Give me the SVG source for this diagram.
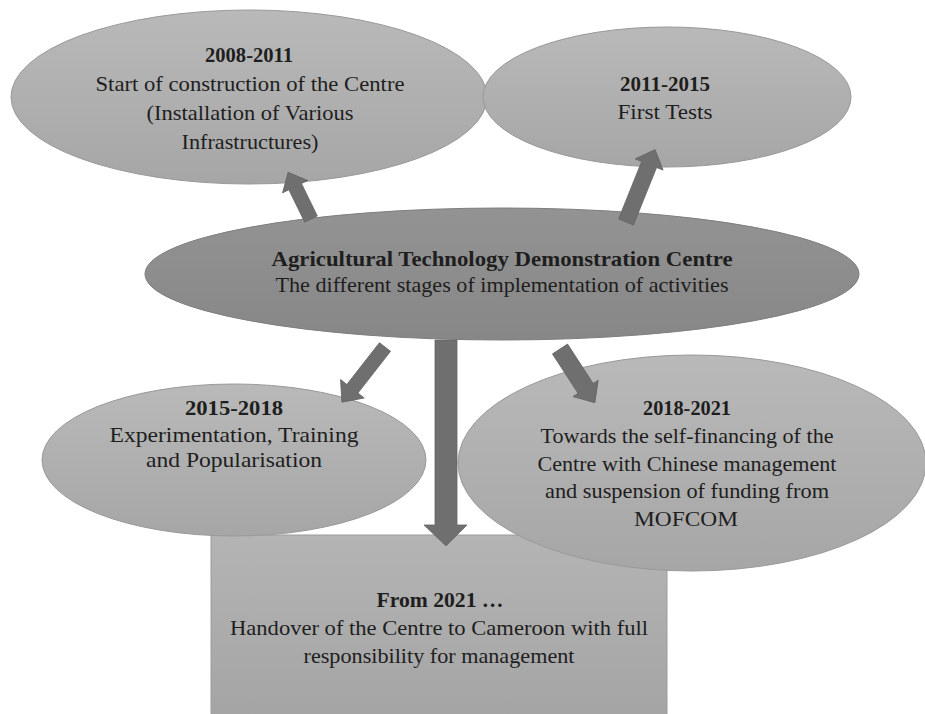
<svg xmlns="http://www.w3.org/2000/svg" width="925" height="714" viewBox="0 0 925 714">
<defs>
<linearGradient id="gEll" x1="0" y1="0" x2="0" y2="1">
<stop offset="0" stop-color="#b9b9b9"/>
<stop offset="1" stop-color="#a6a6a6"/>
</linearGradient>
<linearGradient id="gMain" x1="0" y1="0" x2="0" y2="1">
<stop offset="0" stop-color="#939393"/>
<stop offset="1" stop-color="#878787"/>
</linearGradient>
<linearGradient id="gRect" x1="0" y1="0" x2="0" y2="1">
<stop offset="0" stop-color="#b4b4b4"/>
<stop offset="1" stop-color="#a4a4a4"/>
</linearGradient>
</defs>
<style>
.ell{fill:url(#gEll);stroke:#999;stroke-width:1}
.main{fill:url(#gMain);stroke:#7e7e7e;stroke-width:1}
.box{fill:url(#gRect);stroke:#9c9c9c;stroke-width:1}
text{font-family:"Liberation Serif","DejaVu Serif",serif;font-size:21px;fill:#1e1e1e;text-anchor:middle}
.b{font-weight:bold}
.arr{fill:#6f6f6f;stroke:#666;stroke-width:0.8}
</style>
<rect width="925" height="714" fill="#ffffff"/>

<g id="node-2021">
<rect class="box" x="211" y="535" width="456" height="185"/>
<text class="b" x="440" y="607" textLength="127" lengthAdjust="spacingAndGlyphs">From 2021 …</text>
<text x="439" y="635" textLength="418" lengthAdjust="spacingAndGlyphs">Handover of the Centre to Cameroon with full</text>
<text x="439" y="663" textLength="271" lengthAdjust="spacingAndGlyphs">responsibility for management</text>
</g>

<g id="node-2008">
<ellipse class="ell" cx="249" cy="97" rx="238" ry="87"/>
<text class="b" x="249" y="62" textLength="88" lengthAdjust="spacingAndGlyphs">2008-2011</text>
<text x="250" y="91" textLength="309" lengthAdjust="spacingAndGlyphs">Start of construction of the Centre</text>
<text x="250" y="120" textLength="207" lengthAdjust="spacingAndGlyphs">(Installation of Various</text>
<text x="250" y="149" textLength="137" lengthAdjust="spacingAndGlyphs">Infrastructures)</text>
</g>

<g id="node-2011">
<ellipse class="ell" cx="667" cy="97" rx="184" ry="70"/>
<text class="b" x="665" y="91" textLength="90" lengthAdjust="spacingAndGlyphs">2011-2015</text>
<text x="665" y="119" textLength="95" lengthAdjust="spacingAndGlyphs">First Tests</text>
</g>

<g id="node-2015">
<ellipse class="ell" cx="234" cy="460" rx="192" ry="76"/>
<text class="b" x="234" y="415" textLength="98" lengthAdjust="spacingAndGlyphs">2015-2018</text>
<text x="234" y="442" textLength="249" lengthAdjust="spacingAndGlyphs">Experimentation, Training</text>
<text x="234" y="467" textLength="176" lengthAdjust="spacingAndGlyphs">and Popularisation</text>
</g>

<g id="node-2018">
<ellipse class="ell" cx="692" cy="463" rx="234" ry="108"/>
<text class="b" x="687" y="415" textLength="88" lengthAdjust="spacingAndGlyphs">2018-2021</text>
<text x="687" y="443" textLength="293" lengthAdjust="spacingAndGlyphs">Towards the self-financing of the</text>
<text x="687" y="471" textLength="299" lengthAdjust="spacingAndGlyphs">Centre with Chinese management</text>
<text x="687" y="498" textLength="284" lengthAdjust="spacingAndGlyphs">and suspension of funding from</text>
<text x="686" y="526" textLength="104" lengthAdjust="spacingAndGlyphs">MOFCOM</text>
</g>

<g id="node-centre">
<ellipse class="main" cx="502" cy="274" rx="357" ry="66"/>
<text class="b" x="502" y="266" textLength="461" lengthAdjust="spacingAndGlyphs">Agricultural Technology Demonstration Centre</text>
<text x="502" y="292" textLength="453" lengthAdjust="spacingAndGlyphs">The different stages of implementation of activities</text>
</g>

<g id="connectors">
<path class="arr" d="M0,-7 L36,-7 L36,-14 L52,0 L36,14 L36,7 L0,7 Z" transform="translate(311,219) rotate(-116.1)"/>
<path class="arr" d="M0,-8 L62,-8 L62,-15 L78,0 L62,15 L62,8 L0,8 Z" transform="translate(626,222) rotate(-68.1)"/>
<path class="arr" d="M0,-7 L53,-7 L53,-15 L70,0 L53,15 L53,7 L0,7 Z" transform="translate(385,347) rotate(128)"/>
<path class="arr" d="M0,-9 L47,-9 L47,-15 L64,0 L47,15 L47,9 L0,9 Z" transform="translate(560,349) rotate(57)"/>
<path class="arr" d="M435,340 L457,340 L457,525 L467,525 L446,546 L424,525 L435,525 Z"/>
</g>
</svg>
